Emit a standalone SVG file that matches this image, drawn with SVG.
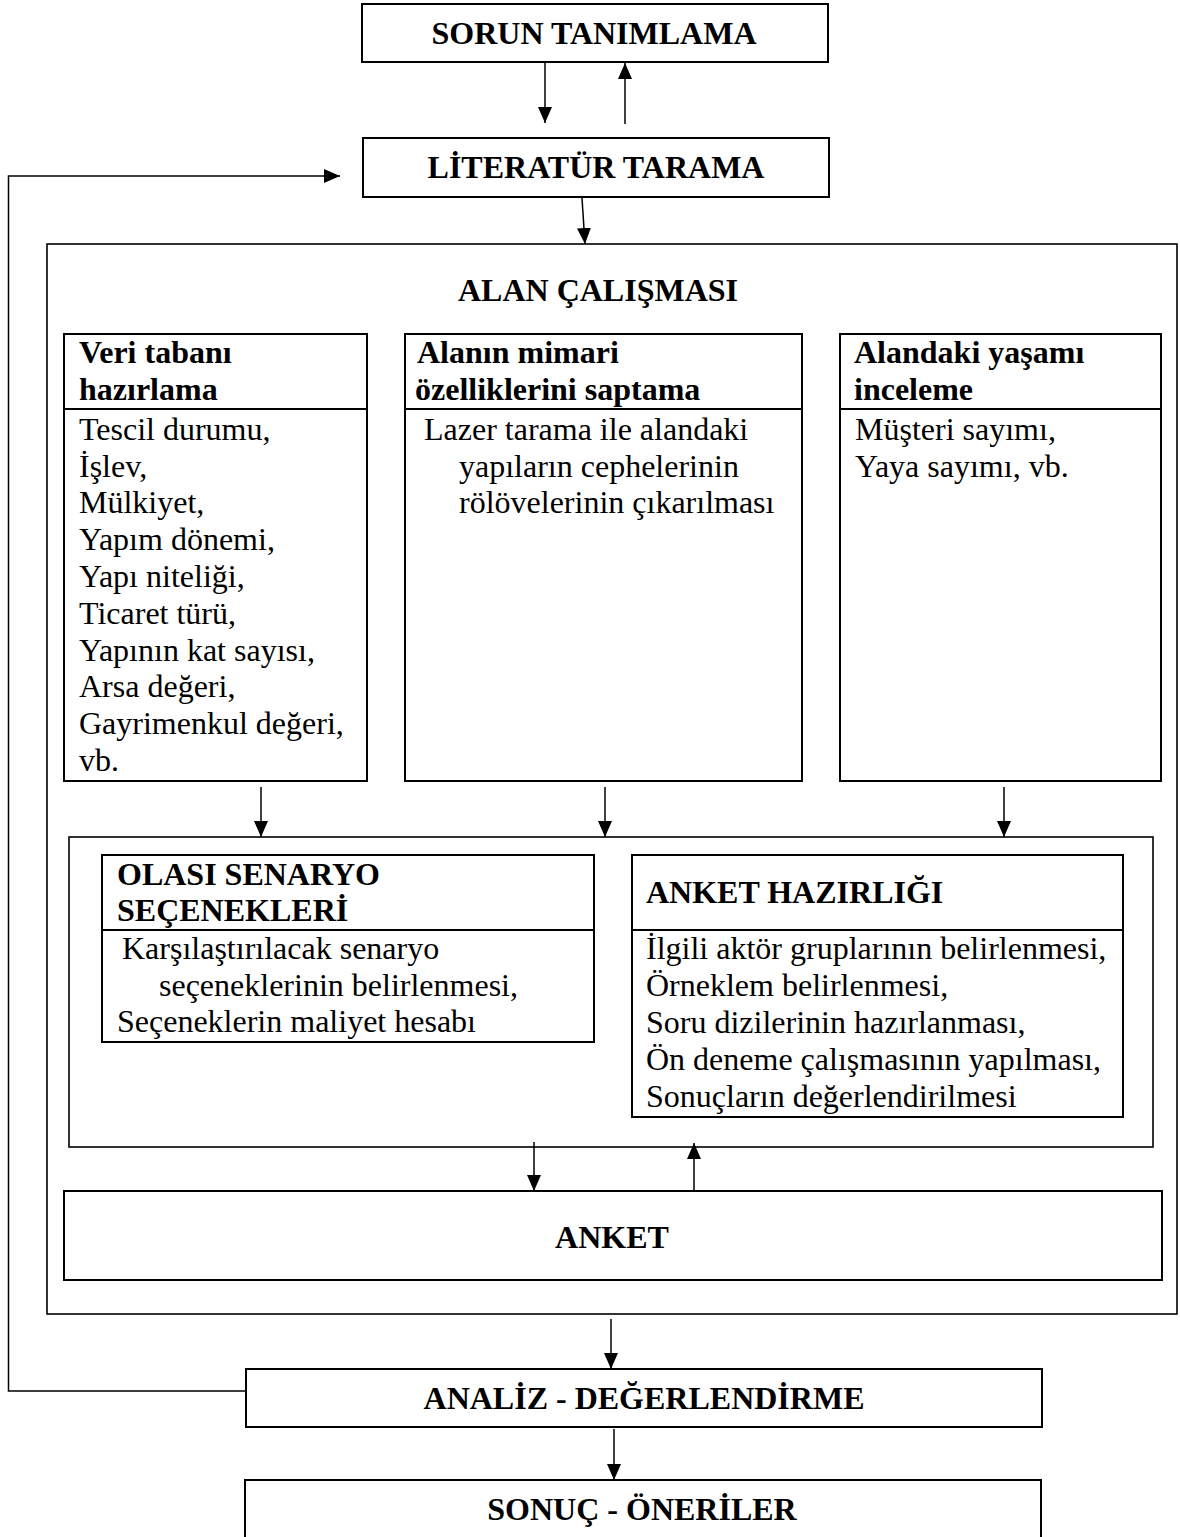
<svg xmlns="http://www.w3.org/2000/svg" width="1180" height="1537" viewBox="0 0 1180 1537">
  <style>
    .box { fill: none; stroke: #000; stroke-width: 2; }
    .frame { fill: none; stroke: #000; stroke-width: 1.6; }
    .link { fill: none; stroke: #000; stroke-width: 1.5; }
    .t { font-family: "Liberation Serif", "Times New Roman", serif; font-size: 32px; fill: #000; }
    .b { font-weight: bold; }
    .c { text-anchor: middle; }
  </style>
  <defs>
    <marker id="arrow" markerUnits="userSpaceOnUse" markerWidth="16" markerHeight="14" refX="16" refY="7" orient="auto">
      <path d="M0,0 L16,7 L0,14 z" fill="#000"/>
    </marker>
  </defs>
  <rect width="1180" height="1537" fill="#fff"/>

  <!-- top steps -->
  <g id="sorun-tanimlama">
    <rect class="box" x="362" y="4" width="466" height="58"/>
    <text class="t b c" x="594" y="44">SORUN TANIMLAMA</text>
  </g>
  <g id="literatur-tarama">
    <rect class="box" x="363" y="138" width="466" height="59"/>
    <text class="t b c" x="596" y="178">LİTERATÜR TARAMA</text>
  </g>

  <!-- field work container -->
  <g id="alan-calismasi">
    <rect class="frame" x="47" y="244" width="1130" height="1070"/>
    <text class="t b c" x="598" y="301">ALAN ÇALIŞMASI</text>
  </g>

  <g id="veri-tabani">
    <rect class="box" x="64" y="334" width="303" height="447"/>
    <line class="box" x1="64" y1="409" x2="367" y2="409"/>
    <text class="t b" x="79" y="363">Veri tabanı</text>
    <text class="t b" x="79" y="400">hazırlama</text>
    <text class="t" x="79" y="440">Tescil durumu,</text>
    <text class="t" x="79" y="477">İşlev,</text>
    <text class="t" x="79" y="513">Mülkiyet,</text>
    <text class="t" x="79" y="550">Yapım dönemi,</text>
    <text class="t" x="79" y="587">Yapı niteliği,</text>
    <text class="t" x="79" y="624">Ticaret türü,</text>
    <text class="t" x="79" y="661">Yapının kat sayısı,</text>
    <text class="t" x="79" y="697">Arsa değeri,</text>
    <text class="t" x="79" y="734">Gayrimenkul değeri,</text>
    <text class="t" x="79" y="771">vb.</text>
  </g>

  <g id="mimari-ozellikler">
    <rect class="box" x="405" y="334" width="397" height="447"/>
    <line class="box" x1="405" y1="409" x2="802" y2="409"/>
    <text class="t b" x="417" y="363">Alanın mimari</text>
    <text class="t b" x="415" y="400">özelliklerini saptama</text>
    <text class="t" x="424" y="440">Lazer tarama ile alandaki</text>
    <text class="t" x="459" y="477">yapıların cephelerinin</text>
    <text class="t" x="459" y="513">rölövelerinin çıkarılması</text>
  </g>

  <g id="alandaki-yasam">
    <rect class="box" x="840" y="334" width="321" height="447"/>
    <line class="box" x1="840" y1="409" x2="1161" y2="409"/>
    <text class="t b" x="854" y="363">Alandaki yaşamı</text>
    <text class="t b" x="854" y="400">inceleme</text>
    <text class="t" x="855" y="440">Müşteri sayımı,</text>
    <text class="t" x="855" y="477">Yaya sayımı, vb.</text>
  </g>

  <!-- scenario / survey preparation container -->
  <g id="hazirlik">
    <rect class="frame" x="69" y="837" width="1084" height="310"/>
  </g>

  <g id="senaryo-secenekleri">
    <rect class="box" x="102" y="855" width="492" height="187"/>
    <line class="box" x1="102" y1="930" x2="594" y2="930"/>
    <text class="t b" x="117" y="885">OLASI SENARYO</text>
    <text class="t b" x="117" y="921">SEÇENEKLERİ</text>
    <text class="t" x="122" y="959">Karşılaştırılacak senaryo</text>
    <text class="t" x="159" y="996">seçeneklerinin belirlenmesi,</text>
    <text class="t" x="117" y="1032">Seçeneklerin maliyet hesabı</text>
  </g>

  <g id="anket-hazirligi">
    <rect class="box" x="632" y="855" width="491" height="262"/>
    <line class="box" x1="632" y1="930" x2="1123" y2="930"/>
    <text class="t b" x="646" y="903">ANKET HAZIRLIĞI</text>
    <text class="t" x="646" y="959">İlgili aktör gruplarının belirlenmesi,</text>
    <text class="t" x="646" y="996">Örneklem belirlenmesi,</text>
    <text class="t" x="646" y="1033">Soru dizilerinin hazırlanması,</text>
    <text class="t" x="646" y="1070">Ön deneme çalışmasının yapılması,</text>
    <text class="t" x="646" y="1107">Sonuçların değerlendirilmesi</text>
  </g>

  <g id="anket">
    <rect class="box" x="64" y="1191" width="1098" height="89"/>
    <text class="t b c" x="612" y="1248">ANKET</text>
  </g>

  <!-- final steps -->
  <g id="analiz-degerlendirme">
    <rect class="box" x="246" y="1369" width="796" height="58"/>
    <text class="t b c" x="644" y="1409">ANALİZ - DEĞERLENDİRME</text>
  </g>
  <g id="sonuc-oneriler">
    <rect class="box" x="245" y="1480" width="796" height="62"/>
    <text class="t b c" x="642" y="1520">SONUÇ - ÖNERİLER</text>
  </g>

  <!-- connectors -->
  <g id="connectors">
    <line class="link" x1="545" y1="63" x2="545" y2="123" marker-end="url(#arrow)"/>
    <line class="link" x1="625" y1="124" x2="625" y2="63" marker-end="url(#arrow)"/>
    <line class="link" x1="582" y1="198" x2="585" y2="244" marker-end="url(#arrow)"/>
    <line class="link" x1="261" y1="787" x2="261" y2="837" marker-end="url(#arrow)"/>
    <line class="link" x1="605" y1="787" x2="605" y2="837" marker-end="url(#arrow)"/>
    <line class="link" x1="1004" y1="787" x2="1004" y2="837" marker-end="url(#arrow)"/>
    <line class="link" x1="534" y1="1142" x2="534" y2="1191" marker-end="url(#arrow)"/>
    <line class="link" x1="694" y1="1191" x2="694" y2="1143" marker-end="url(#arrow)"/>
    <line class="link" x1="611" y1="1319" x2="611" y2="1369" marker-end="url(#arrow)"/>
    <line class="link" x1="614" y1="1429" x2="614" y2="1480" marker-end="url(#arrow)"/>
    <path class="link" d="M246,1391 H8.5 V176 H340" marker-end="url(#arrow)"/>
  </g>
</svg>
